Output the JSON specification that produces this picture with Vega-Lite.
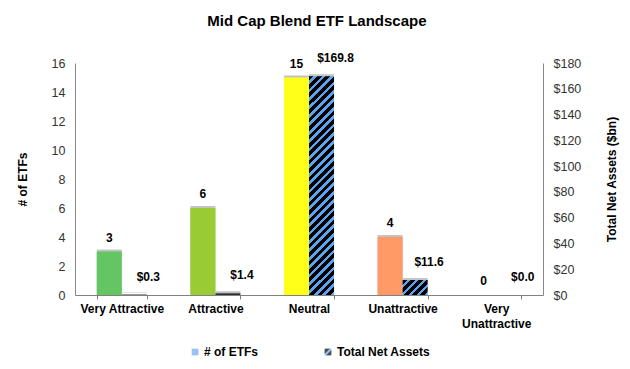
{
"$schema": "https://vega.github.io/schema/vega-lite/v6.json",
"width": 468, "height": 232,
"autosize": {"type": "none"},
"padding": {"left": 75, "top": 63, "right": 87, "bottom": 74},
"config": {"view": {"stroke": null}, "font": "Liberation Sans", "axis": {"grid": false}},
"title": {"text": "Mid Cap Blend ETF Landscape", "fontSize": 15, "fontWeight": "bold", "color": "#000", "anchor": "middle", "frame": "bounds", "offset": 23},
"data": {"values": [
  {"rating": "Very Attractive", "series": "# of ETFs", "value": 3},
  {"rating": "Attractive", "series": "# of ETFs", "value": 6},
  {"rating": "Neutral", "series": "# of ETFs", "value": 15},
  {"rating": "Unattractive", "series": "# of ETFs", "value": 4},
  {"rating": "Very Unattractive", "series": "# of ETFs", "value": 0},
  {"rating": "Very Attractive", "series": "Total Net Assets", "value": 0.3},
  {"rating": "Attractive", "series": "Total Net Assets", "value": 1.4},
  {"rating": "Neutral", "series": "Total Net Assets", "value": 169.8},
  {"rating": "Unattractive", "series": "Total Net Assets", "value": 11.6},
  {"rating": "Very Unattractive", "series": "Total Net Assets", "value": 0.0}
]},
"encoding": {
  "x": {"field": "rating", "type": "nominal",
    "sort": ["Very Attractive", "Attractive", "Neutral", "Unattractive", "Very Unattractive"],
    "scale": {"paddingInner": 0.465, "paddingOuter": 0.2325},
    "axis": {"title": null, "labelAngle": 0, "labelFontSize": 12, "labelFontWeight": "bold", "labelColor": "#000",
      "domainColor": "#808080", "tickColor": "#808080", "tickBand": "extent", "tickSize": 4, "labelPadding": 4,
      "labelLineHeight": 15,
      "labelExpr": "datum.value == 'Very Unattractive' ? ['Very', 'Unattractive'] : datum.value"}},
  "xOffset": {"field": "series", "type": "nominal", "sort": ["# of ETFs", "Total Net Assets"],
    "scale": {"paddingInner": 0, "paddingOuter": 0}}
},
"layer": [
  {
    "transform": [{"filter": "datum.series == '# of ETFs'"}],
    "encoding": {
      "y": {"field": "value", "type": "quantitative", "scale": {"domain": [0, 16]},
        "axis": {"orient": "left", "title": "# of ETFs", "values": [0, 2, 4, 6, 8, 10, 12, 14, 16], "ticks": false,
          "labelPadding": 10, "labelFontSize": 12.5, "labelColor": "#333", "domainColor": "#888",
          "titleFontSize": 12, "titleFontWeight": "bold", "titleColor": "#000", "titlePadding": 22}}
    },
    "layer": [
      {"mark": {"type": "bar", "fill": "#c4c4c4", "xOffset": 3, "yOffset": -2}},
      {"mark": {"type": "bar"},
       "encoding": {"fill": {"field": "rating", "type": "nominal",
         "scale": {"domain": ["Very Attractive", "Attractive", "Neutral", "Unattractive", "Very Unattractive"],
                   "range": ["#63c663", "#99cc33", "#ffff1a", "#ff9966", "#ff3333"]}, "legend": null}}},
      {"mark": {"type": "text", "dy": -14, "fontSize": 12, "fontWeight": "bold", "color": "#000"},
       "encoding": {"text": {"field": "value", "type": "quantitative"}}}
    ]
  },
  {
    "transform": [{"filter": "datum.series == 'Total Net Assets'"}],
    "encoding": {
      "y": {"field": "value", "type": "quantitative", "scale": {"domain": [0, 180]},
        "axis": {"orient": "right", "title": "Total Net Assets ($bn)", "format": "$,.0f",
          "values": [0, 20, 40, 60, 80, 100, 120, 140, 160, 180], "ticks": false,
          "labelPadding": 10, "labelFontSize": 12.5, "labelColor": "#333", "domainColor": "#888",
          "titleFontSize": 12, "titleFontWeight": "bold", "titleColor": "#000", "titlePadding": 38, "titleAngle": 270}}
    },
    "layer": [
      {"mark": {"type": "bar", "fill": "#c4c4c4", "xOffset": 3, "yOffset": -2}},
      {"mark": {"type": "bar"},
       "encoding": {"fill": {"condition": [
          {"test": "datum.rating == 'Neutral'", "value": {"gradient": "linear", "x1": 0, "y1": 0, "x2": 0.1257, "y2": 1.0999, "stops": [
            {"offset": 0, "color": "#000"}, {"offset": 0.019, "color": "#000"}, {"offset": 0.019, "color": "#5ba4f2"}, {"offset": 0.0345, "color": "#5ba4f2"},
            {"offset": 0.0345, "color": "#000"}, {"offset": 0.0534, "color": "#000"}, {"offset": 0.0534, "color": "#5ba4f2"}, {"offset": 0.069, "color": "#5ba4f2"},
            {"offset": 0.069, "color": "#000"}, {"offset": 0.0879, "color": "#000"}, {"offset": 0.0879, "color": "#5ba4f2"}, {"offset": 0.1034, "color": "#5ba4f2"},
            {"offset": 0.1034, "color": "#000"}, {"offset": 0.1224, "color": "#000"}, {"offset": 0.1224, "color": "#5ba4f2"}, {"offset": 0.1379, "color": "#5ba4f2"},
            {"offset": 0.1379, "color": "#000"}, {"offset": 0.1569, "color": "#000"}, {"offset": 0.1569, "color": "#5ba4f2"}, {"offset": 0.1724, "color": "#5ba4f2"},
            {"offset": 0.1724, "color": "#000"}, {"offset": 0.1914, "color": "#000"}, {"offset": 0.1914, "color": "#5ba4f2"}, {"offset": 0.2069, "color": "#5ba4f2"},
            {"offset": 0.2069, "color": "#000"}, {"offset": 0.2259, "color": "#000"}, {"offset": 0.2259, "color": "#5ba4f2"}, {"offset": 0.2414, "color": "#5ba4f2"},
            {"offset": 0.2414, "color": "#000"}, {"offset": 0.2603, "color": "#000"}, {"offset": 0.2603, "color": "#5ba4f2"}, {"offset": 0.2759, "color": "#5ba4f2"},
            {"offset": 0.2759, "color": "#000"}, {"offset": 0.2948, "color": "#000"}, {"offset": 0.2948, "color": "#5ba4f2"}, {"offset": 0.3103, "color": "#5ba4f2"},
            {"offset": 0.3103, "color": "#000"}, {"offset": 0.3293, "color": "#000"}, {"offset": 0.3293, "color": "#5ba4f2"}, {"offset": 0.3448, "color": "#5ba4f2"},
            {"offset": 0.3448, "color": "#000"}, {"offset": 0.3638, "color": "#000"}, {"offset": 0.3638, "color": "#5ba4f2"}, {"offset": 0.3793, "color": "#5ba4f2"},
            {"offset": 0.3793, "color": "#000"}, {"offset": 0.3983, "color": "#000"}, {"offset": 0.3983, "color": "#5ba4f2"}, {"offset": 0.4138, "color": "#5ba4f2"},
            {"offset": 0.4138, "color": "#000"}, {"offset": 0.4328, "color": "#000"}, {"offset": 0.4328, "color": "#5ba4f2"}, {"offset": 0.4483, "color": "#5ba4f2"},
            {"offset": 0.4483, "color": "#000"}, {"offset": 0.4672, "color": "#000"}, {"offset": 0.4672, "color": "#5ba4f2"}, {"offset": 0.4828, "color": "#5ba4f2"},
            {"offset": 0.4828, "color": "#000"}, {"offset": 0.5017, "color": "#000"}, {"offset": 0.5017, "color": "#5ba4f2"}, {"offset": 0.5172, "color": "#5ba4f2"},
            {"offset": 0.5172, "color": "#000"}, {"offset": 0.5362, "color": "#000"}, {"offset": 0.5362, "color": "#5ba4f2"}, {"offset": 0.5517, "color": "#5ba4f2"},
            {"offset": 0.5517, "color": "#000"}, {"offset": 0.5707, "color": "#000"}, {"offset": 0.5707, "color": "#5ba4f2"}, {"offset": 0.5862, "color": "#5ba4f2"},
            {"offset": 0.5862, "color": "#000"}, {"offset": 0.6052, "color": "#000"}, {"offset": 0.6052, "color": "#5ba4f2"}, {"offset": 0.6207, "color": "#5ba4f2"},
            {"offset": 0.6207, "color": "#000"}, {"offset": 0.6397, "color": "#000"}, {"offset": 0.6397, "color": "#5ba4f2"}, {"offset": 0.6552, "color": "#5ba4f2"},
            {"offset": 0.6552, "color": "#000"}, {"offset": 0.6741, "color": "#000"}, {"offset": 0.6741, "color": "#5ba4f2"}, {"offset": 0.6897, "color": "#5ba4f2"},
            {"offset": 0.6897, "color": "#000"}, {"offset": 0.7086, "color": "#000"}, {"offset": 0.7086, "color": "#5ba4f2"}, {"offset": 0.7241, "color": "#5ba4f2"},
            {"offset": 0.7241, "color": "#000"}, {"offset": 0.7431, "color": "#000"}, {"offset": 0.7431, "color": "#5ba4f2"}, {"offset": 0.7586, "color": "#5ba4f2"},
            {"offset": 0.7586, "color": "#000"}, {"offset": 0.7776, "color": "#000"}, {"offset": 0.7776, "color": "#5ba4f2"}, {"offset": 0.7931, "color": "#5ba4f2"},
            {"offset": 0.7931, "color": "#000"}, {"offset": 0.8121, "color": "#000"}, {"offset": 0.8121, "color": "#5ba4f2"}, {"offset": 0.8276, "color": "#5ba4f2"},
            {"offset": 0.8276, "color": "#000"}, {"offset": 0.8466, "color": "#000"}, {"offset": 0.8466, "color": "#5ba4f2"}, {"offset": 0.8621, "color": "#5ba4f2"},
            {"offset": 0.8621, "color": "#000"}, {"offset": 0.881, "color": "#000"}, {"offset": 0.881, "color": "#5ba4f2"}, {"offset": 0.8966, "color": "#5ba4f2"},
            {"offset": 0.8966, "color": "#000"}, {"offset": 0.9155, "color": "#000"}, {"offset": 0.9155, "color": "#5ba4f2"}, {"offset": 0.931, "color": "#5ba4f2"},
            {"offset": 0.931, "color": "#000"}, {"offset": 0.95, "color": "#000"}, {"offset": 0.95, "color": "#5ba4f2"}, {"offset": 0.9655, "color": "#5ba4f2"},
            {"offset": 0.9655, "color": "#000"}, {"offset": 0.9845, "color": "#000"}, {"offset": 0.9845, "color": "#5ba4f2"}, {"offset": 1, "color": "#5ba4f2"}
          ]}},
          {"test": "datum.rating == 'Unattractive'", "value": {"gradient": "linear", "x1": 0, "y1": 0, "x2": 1.1777, "y2": 0.7031, "stops": [
            {"offset": 0, "color": "#000"}, {"offset": 0.11, "color": "#000"}, {"offset": 0.11, "color": "#5ba4f2"}, {"offset": 0.2, "color": "#5ba4f2"},
            {"offset": 0.2, "color": "#000"}, {"offset": 0.31, "color": "#000"}, {"offset": 0.31, "color": "#5ba4f2"}, {"offset": 0.4, "color": "#5ba4f2"},
            {"offset": 0.4, "color": "#000"}, {"offset": 0.51, "color": "#000"}, {"offset": 0.51, "color": "#5ba4f2"}, {"offset": 0.6, "color": "#5ba4f2"},
            {"offset": 0.6, "color": "#000"}, {"offset": 0.71, "color": "#000"}, {"offset": 0.71, "color": "#5ba4f2"}, {"offset": 0.8, "color": "#5ba4f2"},
            {"offset": 0.8, "color": "#000"}, {"offset": 0.91, "color": "#000"}, {"offset": 0.91, "color": "#5ba4f2"}, {"offset": 1, "color": "#5ba4f2"}
          ]}}
        ], "value": "#333"}}},
      {"mark": {"type": "text", "dy": -18, "dx": 14, "fontSize": 12, "fontWeight": "bold", "color": "#000"},
       "encoding": {"text": {"field": "value", "type": "quantitative", "format": "$.1f"}}}
    ]
  },
  {
    "mark": {"type": "square", "size": 0, "filled": true},
    "encoding": {
      "color": {"field": "series", "type": "nominal",
        "scale": {"domain": ["# of ETFs", "Total Net Assets"],
          "range": ["#6ea6ef", {"expr": "{gradient: 'linear', x1: 0, y1: 0, x2: 1, y2: 1, stops: [{offset: 0, color: '#000'}, {offset: 0.4, color: '#000'}, {offset: 0.4, color: '#5ba4f2'}, {offset: 0.6, color: '#5ba4f2'}, {offset: 0.6, color: '#000'}, {offset: 1, color: '#000'}]}"}]},
        "legend": {"orient": "none", "legendX": 114, "legendY": 283, "direction": "horizontal", "title": null, "labelFontSize": 12, "labelFontWeight": "bold",
          "labelColor": "#000", "symbolType": "square", "symbolSize": 45, "columnPadding": 63, "labelOffset": 3}}
    }
  }
],
"resolve": {"scale": {"y": "independent", "fill": "independent", "color": "independent"}}
}
